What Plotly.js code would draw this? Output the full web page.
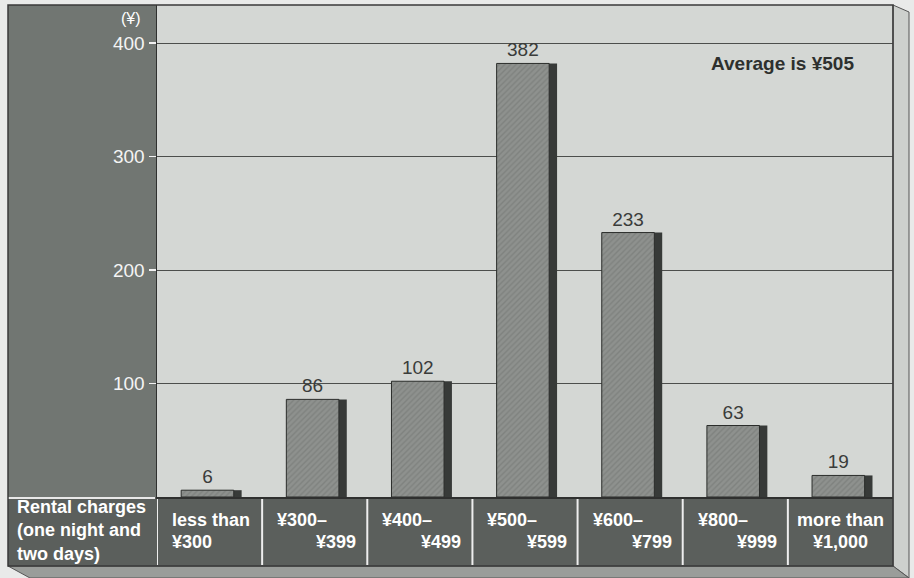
<!DOCTYPE html>
<html>
<head>
<meta charset="utf-8">
<script src="https://cdn.plot.ly/plotly-3.0.1.min.js"></script>
<style>html,body{margin:0;padding:0;background:#e9eae9;}#chart{width:914px;height:578px;}</style>
</head>
<body>
<div id="chart"></div>
<script>
// ---- data ----
const categories = ['less than ¥300', '¥300–¥399', '¥400–¥499', '¥500–¥599', '¥600–¥799', '¥800–¥999', 'more than ¥1,000'];
const counts = [6, 86, 102, 382, 233, 63, 19];
const labelTop = ['less than', '¥300–', '¥400–', '¥500–', '¥600–', '¥800–', 'more than'];
const labelBottom = ['¥300', '¥399', '¥499', '¥599', '¥799', '¥999', '¥1,000'];
const yTicks = [100, 200, 300, 400];
const rowTitle = 'Rental charges<br>(one night and<br>two days)';
const unitLabel = '(¥)';
const note = 'Average is ¥505';

// ---- styling / layout helpers ----
const W = 914, H = 578;
const L = 157, R = 893, T = 5, B = 497;
const px2x = p => (p - L) / (R - L);     // paper x
const py2y = p => (B - p) / (B - T);     // paper y
const rowBottom = py2y(566);
const frameLeft = px2x(8);
// alignment style per category label: 'l' left, 'r' right, 'c' centre
const topAlign = ['l', 'l', 'l', 'l', 'l', 'l', 'c'];
const botAlign = ['l', 'r', 'r', 'r', 'r', 'r', 'c'];
const colPx = (R - L) / categories.length;
const padL = 13 / colPx, padR = 9 / colPx;
const FONT = 'Liberation Sans, Arial, sans-serif';

function anchorFor(i, a) {
  if (a === 'l') return {x: i - 0.5 + padL, xanchor: 'left'};
  if (a === 'r') return {x: i + 0.5 - padR, xanchor: 'right'};
  return {x: i, xanchor: 'center'};
}

const shadow = {
  type: 'bar', x: categories, y: counts,
  offset: 0.22, width: 0.085,
  marker: {color: '#373a38', line: {width: 0}},
  hoverinfo: 'skip', showlegend: false
};
const front = {
  type: 'bar', x: categories, y: counts,
  offset: -0.27, width: 0.5,
  marker: {color: '#8e918e', line: {color: '#2b2d2b', width: 1},
           pattern: {shape: '/', fgcolor: '#7f827f', bgcolor: '#8e918e', size: 4, solidity: 0.35}},
  text: counts.map(String), textposition: 'outside', cliponaxis: false, constraintext: 'none',
  textfont: {family: FONT, size: 19, color: '#3a3c3a'},
  hoverinfo: 'skip', showlegend: false
};

const shapes = [
  // right 3D face
  {type: 'path', xref: 'paper', yref: 'paper', layer: 'below',
   path: `M 1 1 L ${px2x(909)} ${py2y(12)} L ${px2x(909)} ${py2y(578)} L 1 ${rowBottom} Z`,
   fillcolor: '#cdd0cd', line: {color: '#555', width: 1}},
  // bottom 3D face
  {type: 'path', xref: 'paper', yref: 'paper', layer: 'below',
   path: `M ${frameLeft} ${rowBottom} L 1 ${rowBottom} L ${px2x(909)} ${py2y(578)} L ${px2x(30)} ${py2y(578)} Z`,
   fillcolor: '#9a9d9a', line: {color: '#555', width: 1}},
  // left dark panel
  {type: 'rect', xref: 'paper', yref: 'paper', layer: 'below',
   x0: frameLeft, x1: 0, y0: 0, y1: 1, fillcolor: '#717672', line: {width: 0}},
  // bottom label row
  {type: 'rect', xref: 'paper', yref: 'paper', layer: 'below',
   x0: frameLeft, x1: 1, y0: rowBottom, y1: 0, fillcolor: '#5b5f5c', line: {width: 0}},
  // white separator line in left panel
  {type: 'line', xref: 'paper', yref: 'paper', layer: 'above',
   x0: frameLeft, x1: px2x(155), y0: py2y(498), y1: py2y(498), line: {color: '#e8e8e8', width: 2}},
  // frame outline
  {type: 'rect', xref: 'paper', yref: 'paper', layer: 'above',
   x0: frameLeft, x1: 1, y0: rowBottom, y1: 1, line: {color: '#3a3a3a', width: 1.5}}
];
// white column dividers in label row
for (let i = 0; i < categories.length; i++) {
  const xv = i - 0.5;
  shapes.push({type: 'line', xref: 'x', yref: 'paper', layer: 'above',
    x0: xv, x1: xv, y0: py2y(499), y1: py2y(565), line: {color: '#eeeeee', width: 2}});
}

const annFont = {family: FONT, size: 18, color: '#ffffff'};
const annotations = [
  {xref: 'paper', yref: 'paper', x: px2x(15), y: py2y(530), xanchor: 'left', yanchor: 'middle',
   align: 'left', showarrow: false, text: '<b>' + rowTitle.split('<br>').join('</b><br><b>') + '</b>',
   font: {family: FONT, size: 18, color: '#ffffff'}},
  {xref: 'paper', yref: 'paper', x: px2x(143), y: py2y(19), xanchor: 'right', yanchor: 'middle',
   showarrow: false, text: unitLabel, font: {family: FONT, size: 16, color: '#ffffff'}},
  {xref: 'paper', yref: 'paper', x: px2x(782), y: py2y(63), xanchor: 'center', yanchor: 'middle',
   showarrow: false, text: '<b>' + note + '</b>', font: {family: FONT, size: 19, color: '#2e302e'}}
];
for (let i = 0; i < categories.length; i++) {
  const a1 = anchorFor(i, topAlign[i]);
  const a2 = anchorFor(i, botAlign[i]);
  annotations.push({xref: 'x', yref: 'paper', x: a1.x, xanchor: a1.xanchor, y: py2y(520), yanchor: 'middle',
    showarrow: false, text: '<b>' + labelTop[i] + '</b>', font: annFont});
  annotations.push({xref: 'x', yref: 'paper', x: a2.x, xanchor: a2.xanchor, y: py2y(542), yanchor: 'middle',
    showarrow: false, text: '<b>' + labelBottom[i] + '</b>', font: annFont});
}

const layout = {
  width: W, height: H, autosize: false,
  margin: {l: L, r: W - R, t: T, b: H - B, pad: 0},
  paper_bgcolor: '#e9eae9', plot_bgcolor: '#d4d7d4',
  font: {family: FONT},
  barmode: 'overlay', showlegend: false,
  xaxis: {type: 'category', range: [-0.5, categories.length - 0.5], showticklabels: false, ticks: '',
          showgrid: false, zeroline: false, showline: true, linecolor: '#2f302f', linewidth: 1.5, fixedrange: true},
  yaxis: {range: [0, 433.5], tickvals: yTicks, ticktext: yTicks.map(String), ticks: 'outside', ticklen: 7,
          tickcolor: '#f2f2f2', tickwidth: 1.5,
          tickfont: {family: FONT, size: 19, color: '#f4f4f4'},
          showgrid: true, gridcolor: '#4c4e4c', gridwidth: 1, zeroline: false,
          showline: true, linecolor: '#2f302f', linewidth: 1.5, fixedrange: true},
  shapes: shapes, annotations: annotations
};

Plotly.newPlot('chart', [shadow, front], layout, {staticPlot: true, displayModeBar: false});
</script>
</body>
</html>
